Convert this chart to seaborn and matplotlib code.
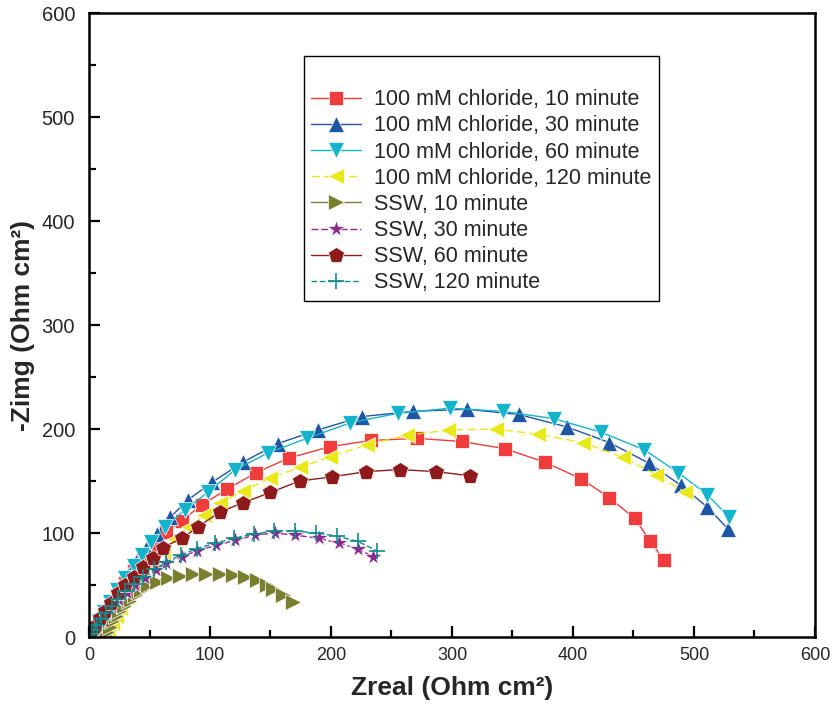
import matplotlib
matplotlib.use("Agg")
import matplotlib.pyplot as plt
from matplotlib.ticker import MultipleLocator
import seaborn as sns
import pandas as pd

# Nyquist data: Zreal / -Zimg in Ohm cm^2
cl10_x = [2, 5, 9, 13, 18, 24, 30, 37, 45, 54, 64, 77, 93, 114, 138, 165, 199, 233, 271, 308, 344, 377, 407, 430, 451, 464, 475]
cl10_y = [3, 8, 15, 23, 32, 42, 52, 63, 74, 87, 101, 112, 127, 142, 158, 172, 183, 189, 191, 188, 181, 168, 152, 134, 114, 92, 74]

cl30_x = [2, 5, 9, 14, 19, 25, 32, 39, 47, 56, 67, 82, 102, 127, 156, 189, 226, 268, 312, 355, 395, 430, 463, 489, 511, 528]
cl30_y = [3, 9, 17, 27, 37, 48, 60, 72, 85, 99, 115, 132, 149, 168, 186, 199, 212, 217, 219, 214, 202, 187, 167, 146, 125, 104]

cl60_x = [1, 4, 8, 12, 17, 23, 30, 37, 44, 51, 63, 79, 98, 121, 148, 180, 216, 255, 298, 342, 384, 423, 459, 487, 511, 529]
cl60_y = [2, 7, 15, 24, 34, 45, 57, 68, 79, 91, 106, 122, 139, 161, 177, 191, 206, 215, 220, 217, 210, 197, 180, 158, 137, 115]

cl120_x = [14, 16, 19, 22, 26, 31, 37, 44, 52, 61, 71, 83, 95, 108, 127, 150, 174, 199, 230, 263, 297, 336, 371, 408, 441, 469, 493]
cl120_y = [1, 6, 13, 20, 28, 38, 48, 59, 70, 82, 94, 106, 117, 129, 140, 153, 163, 173, 185, 194, 199, 200, 195, 187, 173, 156, 139]

ssw10_x = [14, 15, 17, 19, 22, 25, 29, 33, 38, 43, 49, 56, 65, 75, 86, 97, 108, 119, 129, 139, 147, 152, 160, 169]
ssw10_y = [1, 5, 10, 15, 20, 25, 30, 35, 40, 45, 50, 53, 57, 59, 61, 61, 61, 60, 58, 55, 50, 46, 40, 34]

ssw30_x = [2, 4, 7, 10, 14, 19, 25, 31, 38, 46, 55, 64, 77, 89, 105, 121, 137, 154, 170, 190, 207, 222, 235]
ssw30_y = [2, 6, 11, 16, 22, 29, 36, 42, 50, 57, 64, 71, 77, 83, 88, 93, 98, 100, 98, 95, 90, 85, 77]

ssw60_x = [0, 2, 5, 9, 13, 18, 24, 30, 37, 45, 53, 61, 77, 90, 108, 127, 150, 174, 201, 229, 257, 287, 315]
ssw60_y = [1, 5, 11, 18, 25, 33, 42, 50, 58, 67, 76, 86, 95, 106, 120, 129, 139, 150, 154, 159, 161, 159, 155]

ssw120_x = [0, 2, 4, 7, 10, 14, 19, 24, 30, 37, 45, 54, 64, 76, 89, 104, 120, 136, 153, 170, 188, 205, 222, 238]
ssw120_y = [0, 3, 7, 12, 17, 23, 30, 37, 44, 51, 58, 65, 72, 79, 85, 90, 95, 99, 102, 102, 100, 97, 92, 83]

labels = [
    "100 mM chloride, 10 minute",
    "100 mM chloride, 30 minute",
    "100 mM chloride, 60 minute",
    "100 mM chloride, 120 minute",
    "SSW, 10 minute",
    "SSW, 30 minute",
    "SSW, 60 minute",
    "SSW, 120 minute",
]
xs = [cl10_x, cl30_x, cl60_x, cl120_x, ssw10_x, ssw30_x, ssw60_x, ssw120_x]
ys = [cl10_y, cl30_y, cl60_y, cl120_y, ssw10_y, ssw30_y, ssw60_y, ssw120_y]

colors = ["#f03c3c", "#1f55a5", "#14b4cc", "#e8e81a", "#7a7f2f", "#8c2a90", "#8e1a1c", "#0e8c8c"]
markers = ["s", "^", "v", "<", ">", "*", "p", "+"]
msizes = [9.5, 12, 12, 12, 11, 13, 12, 11]
lstyles = ["-", "-", "-", (0, (6, 3)), "-", (0, (5, 2)), "-", (0, (4, 2))]

sns.set_theme(style="white")
plt.rcParams["font.family"] = ["Liberation Sans", "DejaVu Sans"]

fig = plt.figure(figsize=(8.35, 7.07), dpi=100)
ax = fig.add_axes([0.1066, 0.099, 0.8694, 0.8826])

for x, y, lab, c, m, ms, ls in zip(xs, ys, labels, colors, markers, msizes, lstyles):
    df = pd.DataFrame({"Zreal": x, "Zimg": y})
    sns.lineplot(
        data=df, x="Zreal", y="Zimg", ax=ax, sort=False, estimator=None,
        color=c, marker=m, markersize=ms, linewidth=1.0, linestyle=ls,
        markeredgecolor="white" if m != "+" else c,
        markeredgewidth=0.5 if m != "+" else 1.2,
        label=lab,
    )

ax.set_xlim(0, 600)
ax.set_ylim(0, 600)
ax.xaxis.set_major_locator(MultipleLocator(100))
ax.xaxis.set_minor_locator(MultipleLocator(50))
ax.yaxis.set_major_locator(MultipleLocator(100))
ax.yaxis.set_minor_locator(MultipleLocator(50))
ax.tick_params(which="both", direction="in", width=1.6, color="black",
               bottom=True, left=True, top=False, right=False)
ax.tick_params(which="major", length=8, pad=7)
ax.tick_params(axis="x", which="major", labelsize=13)
ax.tick_params(axis="y", which="major", labelsize=14.5, pad=10)
ax.tick_params(which="minor", length=5)
for s in ax.spines.values():
    s.set_linewidth(1.8)
    s.set_color("black")

ax.set_xlabel("Zreal (Ohm cm²)", fontsize=19, fontweight="bold", labelpad=9)
ax.set_ylabel("-Zimg (Ohm cm²)", fontsize=19, fontweight="bold", labelpad=5)

leg = ax.legend(
    loc="upper left", bbox_to_anchor=(0.281, 0.949), title=" ",
    title_fontsize=15.5, fontsize=15.5, frameon=True, fancybox=False,
    edgecolor="black", framealpha=1, handlelength=2.3, handletextpad=0.6,
    labelspacing=0.24, borderpad=0.35,
)
leg.get_frame().set_linewidth(1.0)

fig.savefig("out.png", dpi=100)
